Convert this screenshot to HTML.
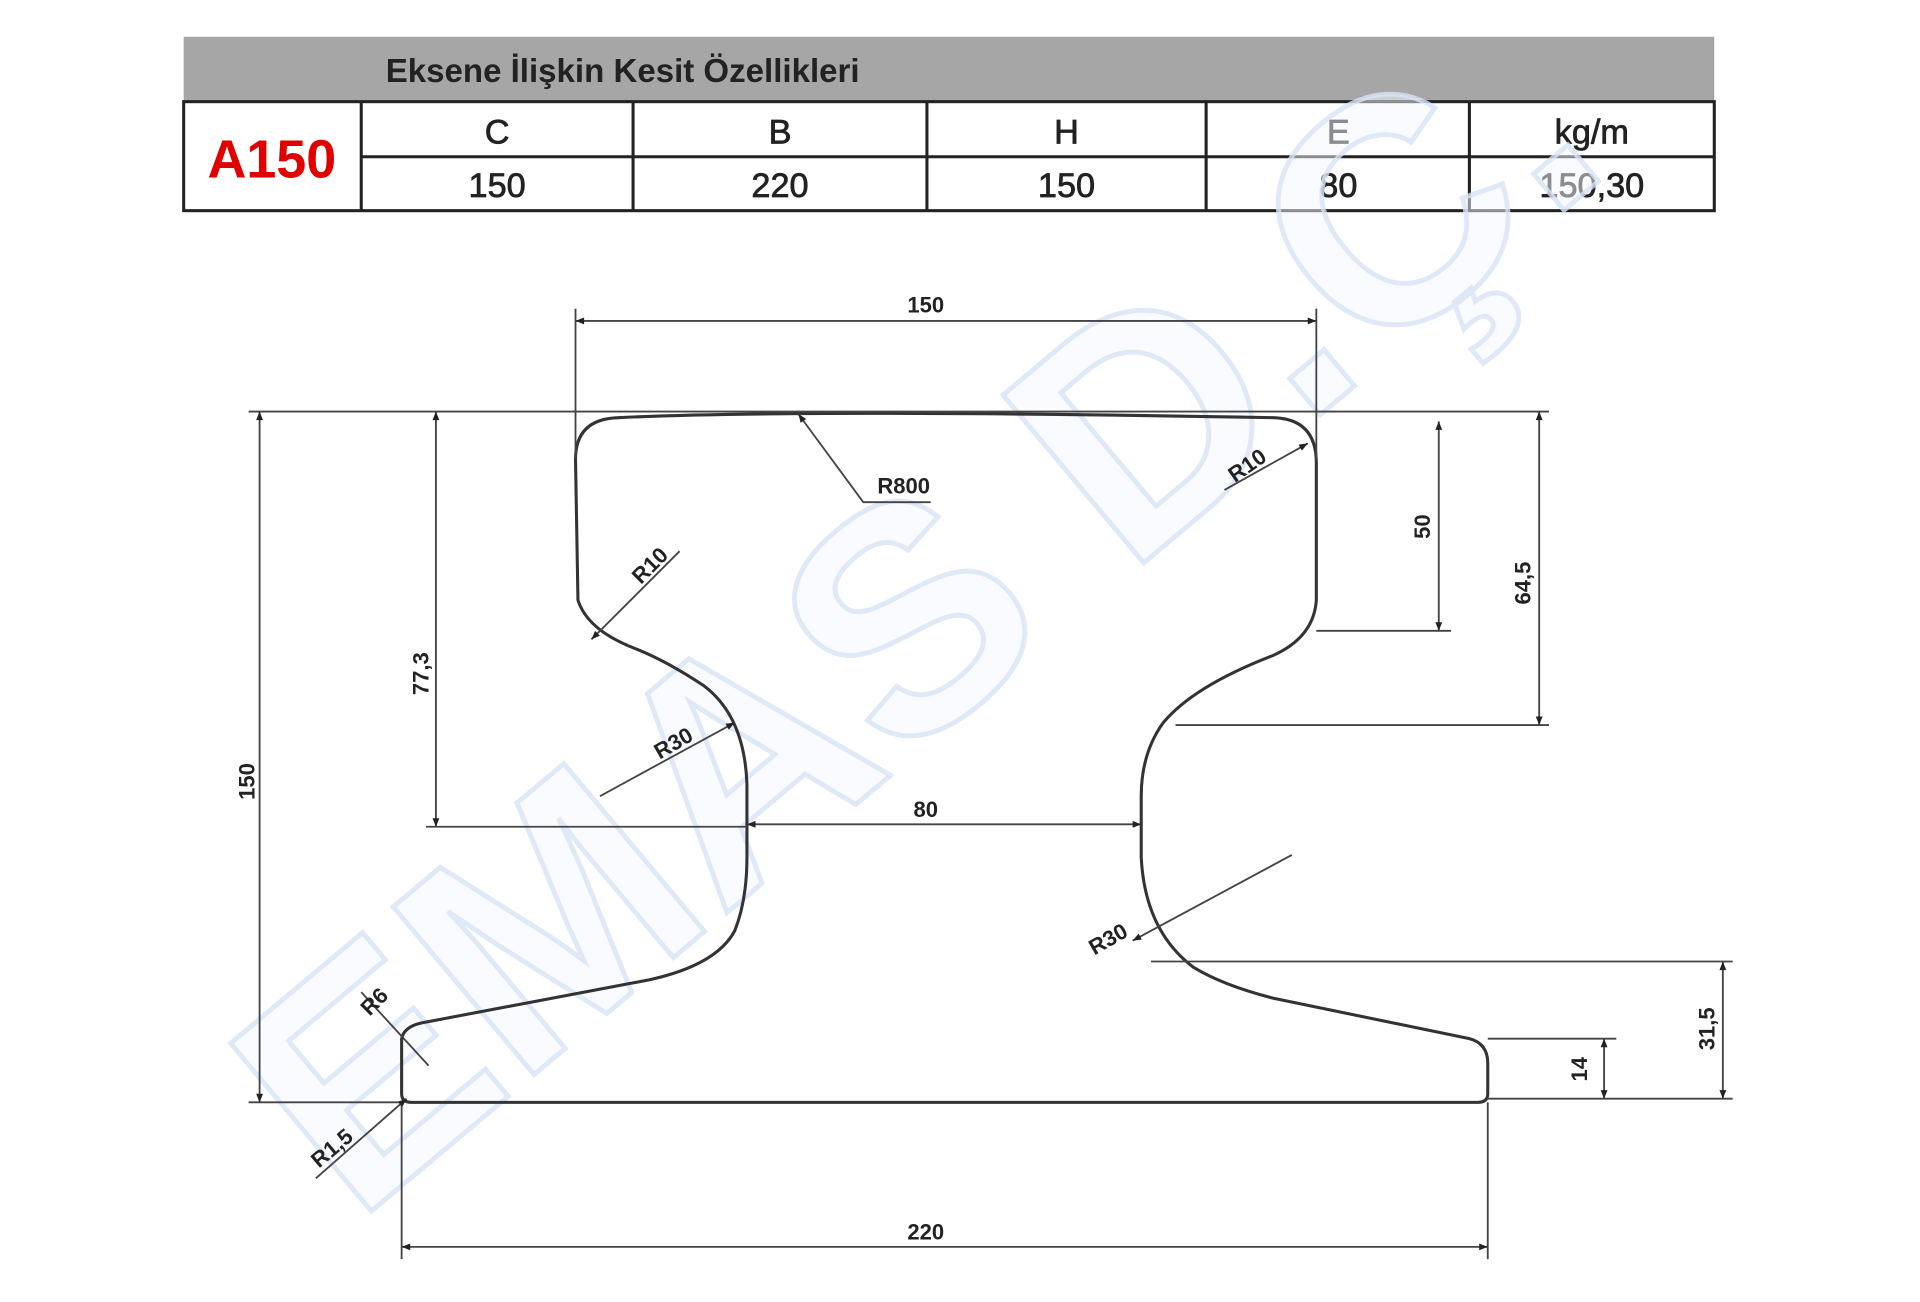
<!DOCTYPE html>
<html><head><meta charset="utf-8"><style>
html,body{margin:0;padding:0;background:#fff;}
svg{display:block;}
text{font-family:"Liberation Sans",sans-serif;}
</style></head><body>
<svg width="1920" height="1302" viewBox="0 0 1568 1063" preserveAspectRatio="none" xmlns="http://www.w3.org/2000/svg">
<defs>
<marker id="a" viewBox="0 0 10 10" refX="10" refY="5" markerWidth="9" markerHeight="7" orient="auto-start-reverse" markerUnits="userSpaceOnUse"><path d="M0,1 L10,5 L0,9 z" fill="#222"/></marker>
</defs>
<rect width="1568" height="1063" fill="#fff"/>
<!-- table -->
<rect x="150" y="30" width="1250" height="53" fill="#a6a6a6"/>
<text x="315" y="67" font-size="27" font-weight="bold" fill="#222">Eksene İlişkin Kesit Özellikleri</text>
<g stroke="#222" stroke-width="2.5" fill="none">
<rect x="150" y="83" width="1250" height="89"/>
<line x1="295" y1="128" x2="1400" y2="128"/>
<line x1="295" y1="83" x2="295" y2="172"/>
<line x1="517" y1="83" x2="517" y2="172"/>
<line x1="757" y1="83" x2="757" y2="172"/>
<line x1="985" y1="83" x2="985" y2="172"/>
<line x1="1200" y1="83" x2="1200" y2="172"/>
</g>
<text x="222" y="145" font-size="44" font-weight="bold" fill="#e00000" text-anchor="middle">A150</text>
<g font-size="28" fill="#222" text-anchor="middle" stroke="#222" stroke-width="0.6">
<text x="406" y="117">C</text><text x="637" y="117">B</text><text x="871" y="117">H</text><text x="1093" y="117">E</text><text x="1300" y="117">kg/m</text>
<text x="406" y="161">150</text><text x="637" y="161">220</text><text x="871" y="161">150</text><text x="1093" y="161">80</text><text x="1300" y="161">150,30</text>
</g>
<!-- watermark -->
<text x="0" y="0" font-size="260" font-weight="bold" fill="#f3f7fd" fill-opacity="0.5" stroke="#d8e3f5" stroke-width="4" stroke-opacity="0.8" transform="translate(290,1000) rotate(-40)">EMAS D.Ç.</text>
<!-- profile -->
<path d="M470,375 Q470,342 505,341 Q650,334 1040,341 Q1075,342 1075,378 L1075,490 Q1073,520 1040,535 Q975,560 950,590 Q932,615 932,650 L932,700 Q935,760 975,790 Q1000,805 1040,815 L1200,848 Q1215,852 1215,868 L1215,893 Q1215,900 1207,900 L336,900 Q328,900 328,893 L328,848 Q330,838 345,835 L530,800 Q585,788 600,760 Q610,735 610,700 L610,640 Q608,585 575,560 Q545,540 520,530 Q480,515 472,490 Z" fill="none" stroke="#333" stroke-width="2.5"/>
<g stroke="#444" stroke-width="1.5" fill="none">
<line x1="470" y1="252" x2="470" y2="375"/><line x1="1075" y1="252" x2="1075" y2="375"/>
<line x1="470" y1="262" x2="1075" y2="262" marker-start="url(#a)" marker-end="url(#a)"/>
<line x1="203" y1="336" x2="1265" y2="336"/>
<line x1="1075" y1="515" x2="1185" y2="515"/>
<line x1="960" y1="592" x2="1265" y2="592"/>
<line x1="940" y1="785" x2="1415" y2="785"/>
<line x1="1215" y1="848" x2="1320" y2="848"/>
<line x1="1215" y1="897" x2="1415" y2="897"/>
<line x1="203" y1="900" x2="328" y2="900"/>
<line x1="348" y1="675" x2="610" y2="675"/>
<line x1="212" y1="336" x2="212" y2="900" marker-start="url(#a)" marker-end="url(#a)"/>
<line x1="356" y1="336" x2="356" y2="675" marker-start="url(#a)" marker-end="url(#a)"/>
<line x1="1175" y1="344" x2="1175" y2="515" marker-start="url(#a)" marker-end="url(#a)"/>
<line x1="1257" y1="336" x2="1257" y2="592" marker-start="url(#a)" marker-end="url(#a)"/>
<line x1="1407" y1="785" x2="1407" y2="897" marker-start="url(#a)" marker-end="url(#a)"/>
<line x1="1310" y1="848" x2="1310" y2="897" marker-start="url(#a)" marker-end="url(#a)"/>
<line x1="610" y1="673" x2="932" y2="673" marker-start="url(#a)" marker-end="url(#a)"/>
<line x1="328" y1="900" x2="328" y2="1028"/><line x1="1215" y1="900" x2="1215" y2="1028"/>
<line x1="328" y1="1018" x2="1215" y2="1018" marker-start="url(#a)" marker-end="url(#a)"/>
<polyline points="760,410 705,410 652,338" marker-end="url(#a)"/>
<line x1="1000" y1="400" x2="1068" y2="362" marker-end="url(#a)"/>
<line x1="555" y1="450" x2="483" y2="522" marker-end="url(#a)"/>
<line x1="490" y1="650" x2="600" y2="590" marker-end="url(#a)"/>
<line x1="1055" y1="698" x2="925" y2="768" marker-end="url(#a)"/>
<line x1="295" y1="810" x2="350" y2="870"/>
<line x1="258" y1="962" x2="332" y2="897" marker-end="url(#a)"/>
</g>
<g font-size="18" fill="#222" text-anchor="middle" font-weight="600">
<text x="756" y="255">150</text>
<text x="756" y="667">80</text>
<text x="756" y="1012">220</text>
<text x="738" y="403">R800</text>
<text transform="translate(1022,385) rotate(-35)">R10</text>
<text transform="translate(535,466) rotate(-45)">R10</text>
<text transform="translate(553,612) rotate(-30)">R30</text>
<text transform="translate(908,772) rotate(-30)">R30</text>
<text transform="translate(310,822) rotate(-45)">R6</text>
<text transform="translate(275,942) rotate(-40)">R1,5</text>
<text transform="translate(208,638) rotate(-90)">150</text>
<text transform="translate(350,550) rotate(-90)">77,3</text>
<text transform="translate(1168,430) rotate(-90)">50</text>
<text transform="translate(1250,476) rotate(-90)">64,5</text>
<text transform="translate(1400,840) rotate(-90)">31,5</text>
<text transform="translate(1296,873) rotate(-90)">14</text>
</g>
</svg>
</body></html>
